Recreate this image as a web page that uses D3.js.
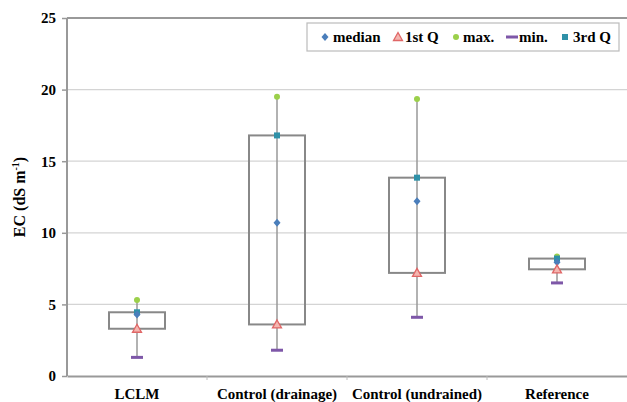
<!DOCTYPE html>
<html>
<head>
<meta charset="utf-8">
<script src="https://cdn.jsdelivr.net/npm/d3@7/dist/d3.min.js"></script>
<style>
  body { margin: 0; background: #fff; }
  svg text { font-family: "Times New Roman", "Liberation Serif", "DejaVu Serif", serif !important; font-weight: bold; }
</style>
</head>
<body>
<div id="chart"></div>
<script>
// datos
const categories = ["LCLM", "Control (drainage)", "Control (undrained)", "Reference"];
const minVals    = [1.3, 1.8, 4.1, 6.5];
const q1Vals     = [3.3, 3.6, 7.2, 7.45];
const medianVals = [4.3, 10.7, 12.2, 7.95];
const q3Vals     = [4.45, 16.8, 13.85, 8.2];
const maxVals    = [5.3, 19.5, 19.35, 8.35];
const yTicks     = [0, 5, 10, 15, 20, 25];

const W = 627, H = 402;
const margin = {top: 18, right: 0, bottom: 26, left: 67};
const width = W - margin.left - margin.right;
const height = H - margin.top - margin.bottom;

const x = d3.scaleBand().domain(categories).range([0, width]);
const y = d3.scaleLinear().domain([0, 25]).range([height, 0]);

const svg = d3.select("#chart").append("svg")
    .attr("width", W).attr("height", H);
const g = svg.append("g")
    .attr("transform", "translate(" + margin.left + "," + margin.top + ")");

// lineas de cuadricula
g.selectAll(".grid").data(yTicks.slice(1, -1)).enter().append("line")
    .attr("x1", 0).attr("x2", width)
    .attr("y1", d => y(d)).attr("y2", d => y(d))
    .attr("stroke", "#d4d4d4").attr("stroke-width", 1.2);

// ejes
const yAxis = g.append("g")
    .call(d3.axisLeft(y).tickValues(yTicks).tickSize(5).tickFormat(d3.format("d")));
yAxis.select(".domain").remove();
yAxis.selectAll("line").attr("stroke", "#999").attr("stroke-width", 1.5);
yAxis.selectAll("text").attr("font-size", 15).attr("fill", "#000").attr("dx", -3);

g.append("line").attr("x1", 0).attr("x2", width).attr("y1", 0).attr("y2", 0)
    .attr("stroke", "#999").attr("stroke-width", 2);
g.append("line").attr("x1", 0).attr("x2", 0).attr("y1", 0).attr("y2", height)
    .attr("stroke", "#999").attr("stroke-width", 2);

const xAxis = g.append("g").attr("transform", "translate(0," + height + ")")
    .call(d3.axisBottom(x).tickSize(0).tickPadding(12));
xAxis.select(".domain").attr("stroke", "#999").attr("stroke-width", 2);
xAxis.selectAll("text").attr("font-size", 15).attr("fill", "#000");
// marcas entre categorias
g.selectAll(".sep").data(categories.slice(1)).enter().append("line")
    .attr("x1", d => x(d)).attr("x2", d => x(d))
    .attr("y1", height).attr("y2", height + 4)
    .attr("stroke", "#bbb");

g.append("text")
    .attr("transform", "translate(" + (-42) + "," + (height / 2) + ") rotate(-90)")
    .attr("text-anchor", "middle")
    .attr("font-size", 16)
    .html('EC (dS m<tspan dy="-6" font-size="10">-1</tspan><tspan dy="6">)</tspan>');

const cx = d => x(d) + x.bandwidth() / 2;
const boxW = x.bandwidth() * 0.4;

// bigotes
g.selectAll(".whisker").data(categories).enter().append("line")
    .attr("x1", cx).attr("x2", cx)
    .attr("y1", (d, i) => y(minVals[i])).attr("y2", (d, i) => y(maxVals[i]))
    .attr("stroke", "#999").attr("stroke-width", 1.5);

// cajas
g.selectAll(".box").data(categories).enter().append("rect")
    .attr("x", d => cx(d) - boxW / 2)
    .attr("y", (d, i) => y(q3Vals[i]))
    .attr("width", boxW)
    .attr("height", (d, i) => y(q1Vals[i]) - y(q3Vals[i]))
    .attr("fill", "none").attr("stroke", "#888").attr("stroke-width", 2);

const colMedian = "#4a7ebb", colQ1 = "#e06666", colMax = "#9bd04a", colMin = "#7e57a8", colQ3 = "#2f91a8";

function drawMedian(sel) {
  sel.append("path").attr("d", "M0,-4L3.5,0L0,4L-3.5,0Z").attr("fill", colMedian);
}
function drawQ1(sel) {
  sel.append("path").attr("d", "M0,-4.5L4.5,3.5L-4.5,3.5Z")
     .attr("fill", "#f4b6b0").attr("stroke", colQ1).attr("stroke-width", 1.3);
}
function drawMax(sel) {
  sel.append("circle").attr("r", 3).attr("fill", colMax);
}
function drawMin(sel) {
  sel.append("rect").attr("x", -6).attr("y", -1.5).attr("width", 12).attr("height", 3).attr("fill", colMin);
}
function drawQ3(sel) {
  sel.append("rect").attr("x", -3).attr("y", -3).attr("width", 6).attr("height", 6).attr("fill", colQ3);
}

const series = [
  {vals: minVals, draw: drawMin},
  {vals: maxVals, draw: drawMax},
  {vals: q3Vals, draw: drawQ3},
  {vals: medianVals, draw: drawMedian},
  {vals: q1Vals, draw: drawQ1}
];
series.forEach(s => {
  categories.forEach((c, i) => {
    g.append("g").attr("transform", "translate(" + cx(c) + "," + y(s.vals[i]) + ")").call(s.draw);
  });
});

// leyenda
const legend = svg.append("g").attr("transform", "translate(307,23)");
legend.append("rect").attr("width", 312).attr("height", 28)
    .attr("fill", "#fff").attr("stroke", "#bbb").attr("stroke-width", 1.2);
const legItems = [
  {label: "median", mx: 18, tx: 26, draw: drawMedian},
  {label: "1st Q", mx: 91, tx: 98, draw: drawQ1},
  {label: "max.", mx: 149, tx: 156, draw: drawMax},
  {label: "min.", mx: 205, tx: 212, draw: drawMin},
  {label: "3rd Q", mx: 258, tx: 266, draw: drawQ3}
];
legItems.forEach(it => {
  legend.append("g").attr("transform", "translate(" + it.mx + ",14)").call(it.draw);
  legend.append("text").attr("x", it.tx).attr("y", 14).attr("dy", "0.35em")
      .attr("font-size", 15).text(it.label);
});
</script>
</body>
</html>
